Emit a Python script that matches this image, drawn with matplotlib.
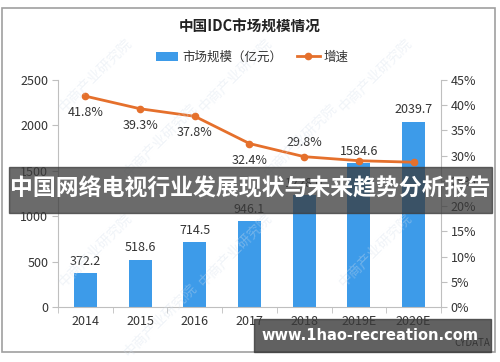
import matplotlib
matplotlib.use("Agg")
import matplotlib.pyplot as plt
from matplotlib.patches import Rectangle
from matplotlib.ticker import FuncFormatter, MultipleLocator, FixedLocator
import numpy as np

plt.rcParams['font.family'] = ['Noto Sans CJK SC', 'DejaVu Sans']

years = ["2014", "2015", "2016", "2017", "2018", "2019E", "2020E"]
market = [372.2, 518.6, 714.5, 946.1, 1228.0, 1584.6, 2039.7]
growth = [41.8, 39.3, 37.8, 32.4, 29.8, 29.0, 28.7]
market_labels = ["372.2", "518.6", "714.5", "946.1", "1228.0", "1584.6", "2039.7"]
growth_labels = ["41.8%", "39.3%", "37.8%", "32.4%", "29.8%", "", ""]

W, H = 500, 362
fig = plt.figure(figsize=(5, 3.62), dpi=100)

def fx(x): return x / W
def fy(y): return 1 - y / H

# outer frame
fig.patches.append(Rectangle((fx(1.5), fy(352)), fx(495) - fx(1.5), fy(8) - fy(352),
                             transform=fig.transFigure, fill=False, edgecolor='#a0a0a0', lw=1.2, zorder=0))

# faint watermarks
wm_pos = [(95, 75), (235, 75), (375, 75), (160, 140), (300, 140),
          (95, 250), (235, 250), (375, 250), (160, 320)]
for (x, y) in wm_pos:
    fig.text(fx(x), fy(y), "中商产业研究院", rotation=45, fontsize=10, color='#d4dfec', alpha=0.35,
             ha='center', va='center', zorder=1)

ax = fig.add_axes([fx(58), fy(307), fx(441) - fx(58), fy(80) - fy(307)])
ax.patch.set_alpha(0)
x = np.arange(len(years))
bars = ax.bar(x, market, width=0.42, color='#3d9be9', zorder=2, label='市场规模（亿元）')
ax.set_xlim(-0.5, len(years) - 0.5)
ax.set_ylim(0, 2500)
ax.yaxis.set_major_locator(MultipleLocator(500))
ax.set_xticks(x)
ax.set_xticklabels(years)
ax.xaxis.set_minor_locator(FixedLocator(np.arange(-0.5, len(years), 1.0)))
ax.tick_params(axis='x', which='major', length=0, pad=6, labelsize=9, labelcolor='#333333')
ax.tick_params(axis='x', which='minor', length=4, color='#bfbfbf')
ax.tick_params(axis='y', length=4, color='#bfbfbf', labelsize=9, labelcolor='#333333', pad=3)
for s in ['top', 'right']:
    ax.spines[s].set_visible(False)
for s in ['left', 'bottom']:
    ax.spines[s].set_color('#bfbfbf')

for xi, v, lab in zip(x, market, market_labels):
    ax.annotate(lab, (xi, v), xytext=(0, 4), textcoords='offset points', ha='center', va='bottom',
                fontsize=9, color='#333333', zorder=3)

ax2 = ax.twinx()
ax2.set_ylim(0, 45)
ax2.yaxis.set_major_locator(MultipleLocator(5))
ax2.yaxis.set_major_formatter(FuncFormatter(lambda v, p: f"{int(round(v))}%"))
ax2.tick_params(axis='y', length=4, color='#bfbfbf', labelsize=9, labelcolor='#333333', pad=3)
for s in ['top', 'left', 'bottom']:
    ax2.spines[s].set_visible(False)
ax2.spines['right'].set_color('#bfbfbf')
line, = ax2.plot(x, growth, color='#e5702c', lw=2, marker='o', markersize=4.5, zorder=4, label='增速')
offsets = [-12, -12, -12, -12, 10, 0, 0]
for xi, v, lab, off in zip(x, growth, growth_labels, offsets):
    if lab:
        ax2.annotate(lab, (xi, v), xytext=(0, off), textcoords='offset points', ha='center',
                     va='center', fontsize=9, color='#333333')

fig.text(0.5, fy(27), "中国IDC市场规模情况", ha='center', va='center', fontsize=10.5,
         fontweight='bold', color='#222222')
fig.legend(handles=[bars, line], loc='center', bbox_to_anchor=(fx(252), fy(57)), ncol=2,
           frameon=False, fontsize=9, handlelength=1.8, columnspacing=1.2, handletextpad=0.3,
           labelcolor='#333333')

# banner overlay
fig.patches.append(Rectangle((fx(9), fy(213)), fx(492) - fx(9), fy(167) - fy(213),
                             transform=fig.transFigure, color='#3a3a3a', alpha=0.75, zorder=10))
fig.text(0.5, fy(189), "中国网络电视行业发展现状与未来趋势分析报告", ha='center', va='center',
         fontsize=16.5, fontweight='bold', color='white', zorder=11)

# bottom url box
fig.text(fx(472), fy(343), "CYDATA", ha='center', va='center', fontsize=7, color='#222222', zorder=9)
fig.patches.append(Rectangle((fx(254), fy(352)), fx(491) - fx(254), fy(319) - fy(352),
                             transform=fig.transFigure, color='#3a3a3a', alpha=0.8, zorder=10))
fig.text(fx(370), fy(335), "www.1hao-recreation.com", ha='center', va='center',
         fontsize=10.5, fontweight='bold', color='white', family='DejaVu Sans', zorder=11)

fig.savefig("out.png", dpi=100)
